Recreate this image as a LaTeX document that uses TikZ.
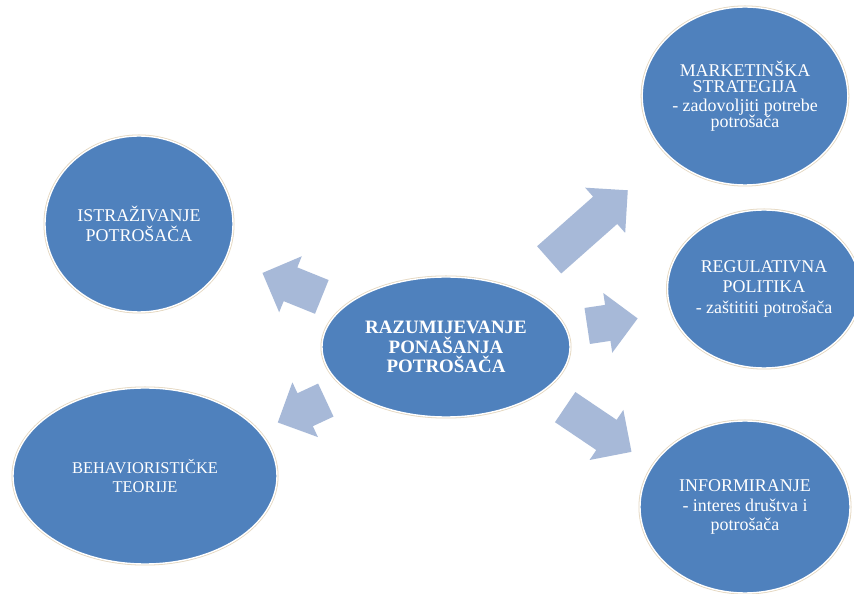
\documentclass[tikz,border=0pt]{standalone}
\usepackage{fontspec}
\setmainfont{Liberation Serif}
\usetikzlibrary{shapes.geometric,shapes.arrows}

\tikzset{
  bubble/.style={ellipse,fill=bubblecol,draw=white,line width=1.4bp,
    preaction={draw=ringcol,line width=3bp},text=white,align=center,
    inner sep=0pt,font=\fontsize{18}{19.5}\selectfont},
  blockarrow/.style={single arrow,fill=arrowcol,draw=none,anchor=tail,
    inner sep=0pt,text height=36bp,text depth=0pt,
    single arrow head extend=12bp,single arrow tip angle=90},
}

\begin{document}
\begin{tikzpicture}[line join=bevel,]
	%%
	\definecolor{bubblecol}{RGB}{79,129,189}
	\definecolor{arrowcol}{RGB}{167,185,216}
	\definecolor{ringcol}{RGB}{228,214,190}
	\useasboundingbox (0,0) rectangle (854bp,594bp);
	\fill[white] (0,0) rectangle (854bp,594bp);

	\node (cen) at (446bp,247bp) [bubble,minimum width=248bp,minimum height=140bp,font=\fontsize{19}{19.5}\selectfont\bfseries] {RAZUMIJEVANJE\\PONAŠANJA\\POTROŠAČA};
	  \node (istr) at (139bp,370bp) [bubble,minimum width=188bp,minimum height=176bp] {ISTRAŽIVANJE\\POTROŠAČA};
	  \node (beh) at (145bp,118bp) [bubble,minimum width=264bp,minimum height=176bp,font=\fontsize{16.5}{19}\selectfont] {BEHAVIORISTIČKE\\TEORIJE};
	  \node (mark) at (745bp,498bp) [bubble,minimum width=166bp,minimum height=178bp,font=\fontsize{18}{16.5}\selectfont] {MARKETINŠKA\\STRATEGIJA\\[2bp]- zadovoljiti potrebe\\potrošača};
	  \node (reg) at (764bp,305bp) [bubble,minimum width=184bp,minimum height=158bp] {REGULATIVNA\\POLITIKA\\[2bp]- zaštititi potrošača};
	  \node (inf) at (745bp,87bp) [bubble,minimum width=210bp,minimum height=172bp] {INFORMIRANJE\\[1bp]- interes društva i\\potrošača};

	%
	  \node (a1) at (322bp,297bp) [blockarrow,rotate=158,minimum height=64bp] {};
	  \node (a2) at (326bp,194bp) [blockarrow,rotate=205,minimum height=53bp] {};
	  \node (a3) at (549bp,334bp) [blockarrow,rotate=41.5,minimum height=105bp] {};
	  \node (a4) at (587bp,268bp) [blockarrow,rotate=8.5,minimum height=51bp] {};
	  \node (a5) at (565bp,187bp) [blockarrow,rotate=-34,minimum height=80bp] {};
	%
	\end{tikzpicture}
\end{document}
